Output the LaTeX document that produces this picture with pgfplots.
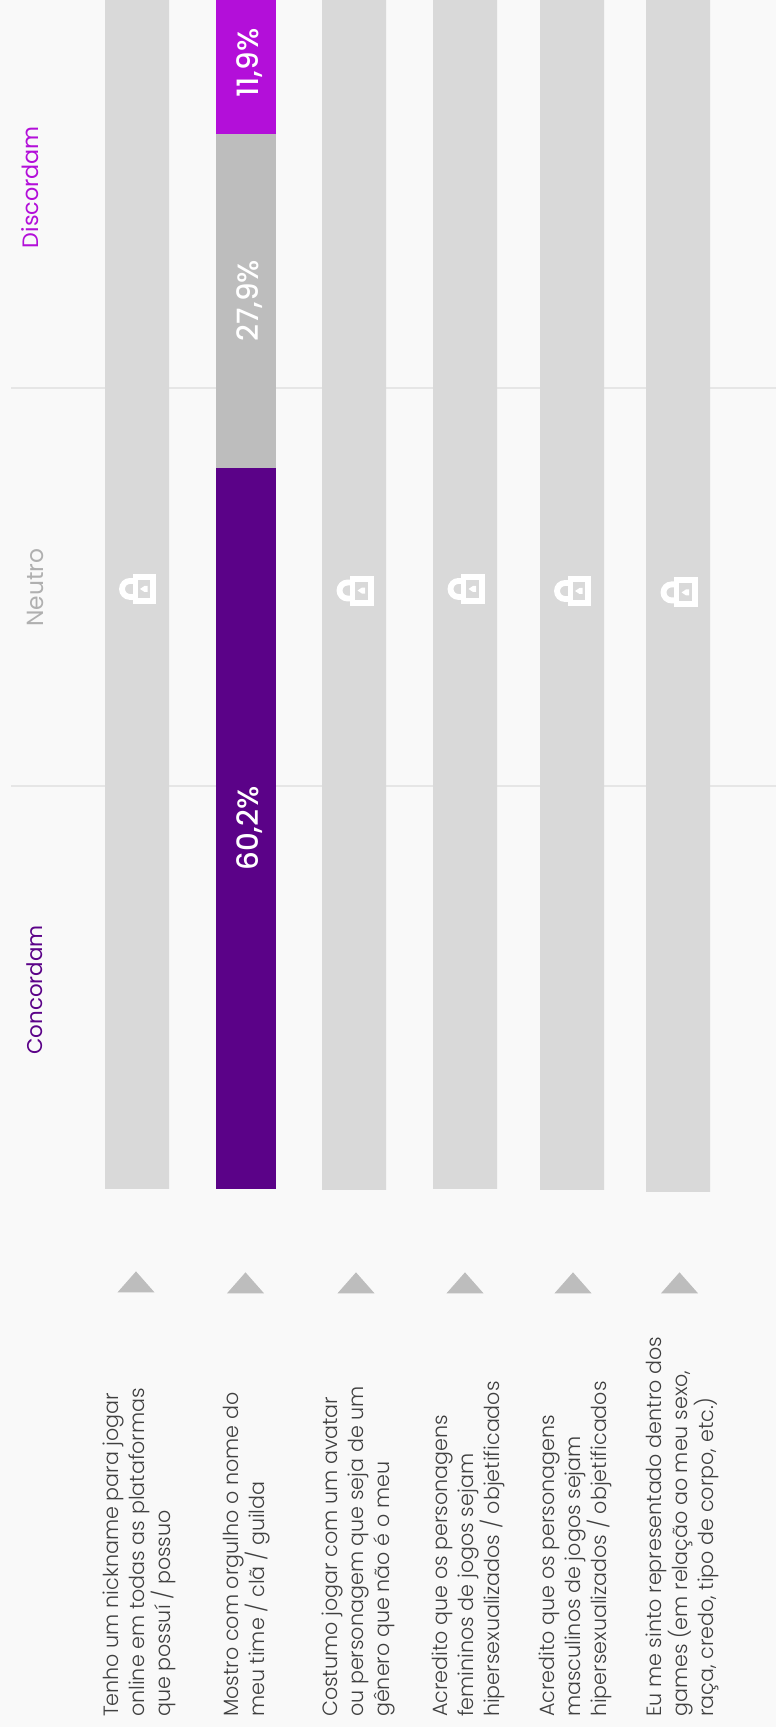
\documentclass[border=0pt]{standalone}
\usepackage{pgfplots}
\pgfplotsset{compat=1.18}
\usepackage{fontspec}
\setmainfont{Poppins Light}
\newfontfamily\hdfont{Poppins}
\newfontfamily\valfont{Poppins Medium}
\definecolor{bgc}{HTML}{F9F9F9}
\definecolor{lockedc}{HTML}{D9D9D9}
\definecolor{concc}{HTML}{5B0288}
\definecolor{neutc}{HTML}{BDBDBD}
\definecolor{neuttext}{HTML}{B0B0B0}
\definecolor{discc}{HTML}{B30FD9}
\definecolor{gridc}{HTML}{E6E6E6}
\definecolor{txtc}{HTML}{404040}
\pgfdeclareplotmark{slider}{%
  \pgfpathmoveto{\pgfpoint{-13.9pt}{0pt}}%
  \pgfpathlineto{\pgfpoint{13.9pt}{0pt}}%
  \pgfpathlineto{\pgfpoint{0pt}{15.75pt}}%
  \pgfpathclose
  \pgfusepathqfill
}
\pgfdeclareplotmark{lock}{%
  \pgftransformscale{0.75}%
  \pgfsetlinewidth{4.4pt}%
  \pgfsetstrokecolor{white}\pgfsetfillcolor{white}%
  \pgfpathmoveto{\pgfpoint{-10pt}{8pt}}%
  \pgfpathlineto{\pgfpoint{-14.5pt}{8pt}}%
  \pgfpatharc{90}{270}{8pt}%
  \pgfpathlineto{\pgfpoint{-10pt}{-8pt}}%
  \pgfusepathqstroke
  \begin{pgfscope}%
  \pgfsetcornersarced{\pgfpoint{3pt}{3pt}}%
  \pgfpathrectangle{\pgfpoint{-11.75pt}{-15pt}}{\pgfpoint{23.5pt}{30pt}}%
  \pgfusepathqfill
  \end{pgfscope}%
  \pgfsetfillcolor{lockedc}%
  \pgfpathrectangle{\pgfpoint{-6.6pt}{-9pt}}{\pgfpoint{12.3pt}{18pt}}%
  \pgfusepathqfill
  \pgfsetfillcolor{white}%
  \pgfpathmoveto{\pgfpoint{-4.5pt}{0pt}}%
  \pgfpathlineto{\pgfpoint{0pt}{3pt}}%
  \pgfpathlineto{\pgfpoint{3pt}{3pt}}%
  \pgfpathlineto{\pgfpoint{3pt}{-3pt}}%
  \pgfpathlineto{\pgfpoint{0pt}{-3pt}}%
  \pgfpathclose
  \pgfusepathqfill
}
\pgfplotsset{layer/.style={
  scale only axis, width=582pt, height=1295.25pt,
  xmin=0, xmax=776, ymin=-44.95, ymax=99.33,
  axis line style={draw=none}, tick style={draw=none},
  ytick=\empty, xtick=\empty, clip=true,
  at={(0pt,0pt)}, anchor=south west}}
\begin{document}
\begin{tikzpicture}
% background, grid lines and statement labels
\begin{axis}[layer,
  axis background/.style={fill=bgc},
  xtick={139,247,358,468,575,682},
  xticklabels={
    {Tenho um nickname para jogar\\online em todas as plataformas\\que possuí / possuo},
    {Mostro com orgulho o nome do\\meu time / clã / guilda},
    {Costumo jogar com um avatar\\ou personagem que seja de um\\gênero que não é o meu},
    {Acredito que os personagens\\femininos de jogos sejam\\hipersexualizados / objetificados},
    {Acredito que os personagens\\masculinos de jogos sejam\\hipersexualizados / objetificados},
    {Eu me sinto representado dentro dos\\games (em relação ao meu sexo,\\raça, credo, tipo de corpo, etc.)}},
  major tick length=0pt,
  xticklabel shift=0pt,
  x tick label style={yshift=7.4pt, rotate=90, anchor=west, align=left, inner sep=0pt,
    text=txtc,
    font=\fontsize{15.5}{19.5}\selectfont},
]
\addplot[gridc, line width=1.1pt] coordinates {(11,66.92) (776,66.92)};
\addplot[gridc, line width=1.1pt] coordinates {(11,33.67) (776,33.67)};
\node[rotate=90, text=discc, inner sep=0pt, font=\hdfont\fontsize{16.7}{16}\selectfont] at (axis cs:30,83.7) {Discordam};
\node[rotate=90, text=neuttext, inner sep=0pt, font=\hdfont\fontsize{17.5}{16}\selectfont] at (axis cs:35,50.25) {Neutro};
\node[rotate=90, text=concc, inner sep=0pt, font=\hdfont\fontsize{16}{16}\selectfont] at (axis cs:35,16.62) {Concordam};
\end{axis}
% stacked bars
\begin{axis}[layer, ybar stacked, stack negative=on previous]
\addplot[draw=none, fill=none, bar width=48pt] coordinates {(137,0) (246,0) (354,-0.08) (465,0) (572,-0.08) (678,-0.25)};
\addplot[draw=none, fill=lockedc, bar width=48pt] coordinates {(137,100) (246,0) (354,100) (465,100) (572,100) (678,100)};
\addplot[draw=none, fill=concc, bar width=45pt] coordinates {(137,0) (246,60.2) (354,0) (465,0) (572,0) (678,0)};
\addplot[draw=none, fill=neutc, bar width=45pt] coordinates {(137,0) (246,27.9) (354,0) (465,0) (572,0) (678,0)};
\addplot[draw=none, fill=discc, bar width=45pt] coordinates {(137,0) (246,11.9) (354,0) (465,0) (572,0) (678,0)};
\end{axis}
% value labels, locks and slider marks
\begin{axis}[layer]
\addplot[only marks, mark=lock] coordinates {(144.5,50.13) (362,50.0) (473,50.13) (579.5,49.96) (686,49.84)};
\addplot[only marks, mark=slider, color=neutc] coordinates {(136,-8.64) (245.5,-8.72) (356,-8.72) (465,-8.72) (573,-8.72) (679.5,-8.72)};
\node[rotate=90, text=white, inner sep=0pt, font=\valfont\fontsize{22}{22}\selectfont] at (axis cs:250,94.07) {11,9\%};
\node[rotate=90, text=white, inner sep=0pt, font=\valfont\fontsize{22}{22}\selectfont] at (axis cs:250,74.19) {27,9\%};
\node[rotate=90, text=white, inner sep=0pt, font=\valfont\fontsize{22}{22}\selectfont] at (axis cs:250,30.12) {60,2\%};
\end{axis}
\end{tikzpicture}
\end{document}
